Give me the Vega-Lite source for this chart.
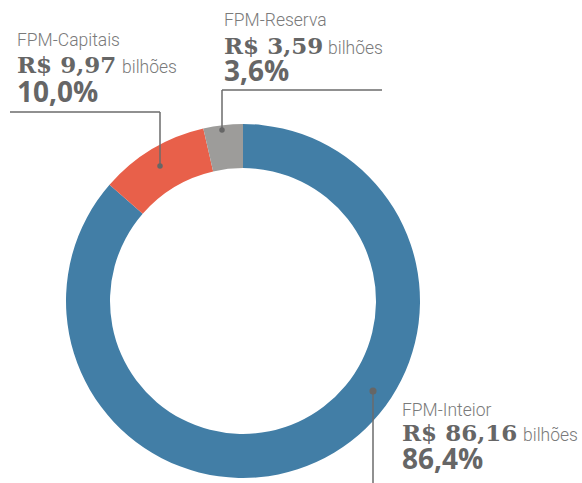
{
  "$schema": "https://vega.github.io/schema/vega-lite/v6.json",
  "width": 582,
  "height": 483,
  "autosize": {"type": "none"},
  "padding": 0,
  "background": "white",
  "config": {"view": {"stroke": null}},
  "data": {
    "values": [
      {"categoria": "FPM-Inteior", "valor": 86.16, "pct": 86.4},
      {"categoria": "FPM-Capitais", "valor": 9.97, "pct": 10.0},
      {"categoria": "FPM-Reserva", "valor": 3.59, "pct": 3.6}
    ]
  },
  "layer": [
    {
      "mark": {"type": "arc", "outerRadius": 177, "innerRadius": 133, "x": 243, "y": 301},
      "encoding": {
        "theta": {"field": "valor", "type": "quantitative", "stack": true},
        "order": {"field": "valor", "type": "quantitative", "sort": "descending"},
        "color": {
          "field": "categoria", "type": "nominal", "legend": null,
          "scale": {"domain": ["FPM-Inteior", "FPM-Capitais", "FPM-Reserva"], "range": ["#427ea6", "#e8604a", "#9d9c9a"]}
        }
      }
    },
    {
      "mark": {"type": "rule", "color": "#6b6b6b", "strokeWidth": 1.5},
      "encoding": {
        "x": {"value": {"expr": "datum.categoria === 'FPM-Inteior' ? 373 : datum.categoria === 'FPM-Capitais' ? 160 : 222"}},
        "y": {"value": {"expr": "datum.categoria === 'FPM-Inteior' ? 391 : datum.categoria === 'FPM-Capitais' ? 112 : 90"}},
        "y2": {"value": {"expr": "datum.categoria === 'FPM-Inteior' ? 483 : datum.categoria === 'FPM-Capitais' ? 166 : 130"}}
      }
    },
    {
      "transform": [{"filter": "datum.categoria !== 'FPM-Inteior'"}],
      "mark": {"type": "rule", "color": "#6b6b6b", "strokeWidth": 1.5},
      "encoding": {
        "x": {"value": {"expr": "datum.categoria === 'FPM-Capitais' ? 10 : 222"}},
        "x2": {"value": {"expr": "datum.categoria === 'FPM-Capitais' ? 160 : 382"}},
        "y": {"value": {"expr": "datum.categoria === 'FPM-Capitais' ? 112 : 90"}}
      }
    },
    {
      "mark": {
        "type": "circle", "color": "#666666", "opacity": 1,
        "x": {"expr": "datum.categoria === 'FPM-Inteior' ? 373 : datum.categoria === 'FPM-Capitais' ? 160 : 222"},
        "y": {"expr": "datum.categoria === 'FPM-Inteior' ? 391 : datum.categoria === 'FPM-Capitais' ? 166 : 130"},
        "size": {"expr": "datum.categoria === 'FPM-Inteior' ? 50 : 30"}
      },
      "encoding": {}
    },
    {
      "mark": {
        "type": "text", "align": "left", "baseline": "alphabetic",
        "font": "Roboto", "fontWeight": 300, "fontSize": 17.5, "color": "#7a7a7a",
        "x": {"expr": "datum.categoria === 'FPM-Inteior' ? 402 : datum.categoria === 'FPM-Capitais' ? 17 : 224"},
        "y": {"expr": "datum.categoria === 'FPM-Inteior' ? 416 : datum.categoria === 'FPM-Capitais' ? 46 : 26"}
      },
      "encoding": {"text": {"field": "categoria"}}
    },
    {
      "mark": {
        "type": "text", "align": "left", "baseline": "alphabetic",
        "font": "DejaVu Serif", "fontWeight": "bold", "fontSize": 23, "color": "#666666",
        "x": {"expr": "datum.categoria === 'FPM-Inteior' ? 402 : datum.categoria === 'FPM-Capitais' ? 17 : 224"},
        "y": {"expr": "datum.categoria === 'FPM-Inteior' ? 441 : datum.categoria === 'FPM-Capitais' ? 73 : 54"}
      },
      "encoding": {"text": {"value": {"expr": "'R$ ' + replace(format(datum.valor, '.2f'), '.', ',')"}}}
    },
    {
      "mark": {
        "type": "text", "align": "left", "baseline": "alphabetic",
        "font": "Roboto", "fontWeight": 300, "fontSize": 17.5, "color": "#7a7a7a", "text": "bilhões",
        "x": {"expr": "datum.categoria === 'FPM-Inteior' ? 523 : datum.categoria === 'FPM-Capitais' ? 122 : 328"},
        "y": {"expr": "datum.categoria === 'FPM-Inteior' ? 441 : datum.categoria === 'FPM-Capitais' ? 73 : 54"}
      },
      "encoding": {}
    },
    {
      "mark": {
        "type": "text", "align": "left", "baseline": "alphabetic",
        "font": "Open Sans", "fontWeight": "bold", "fontSize": 28, "color": "#666666",
        "x": {"expr": "datum.categoria === 'FPM-Inteior' ? 402 : datum.categoria === 'FPM-Capitais' ? 17 : 224"},
        "y": {"expr": "datum.categoria === 'FPM-Inteior' ? 469 : datum.categoria === 'FPM-Capitais' ? 102 : 81"}
      },
      "encoding": {"text": {"value": {"expr": "replace(format(datum.pct, '.1f'), '.', ',') + '%'"}}}
    }
  ]
}
